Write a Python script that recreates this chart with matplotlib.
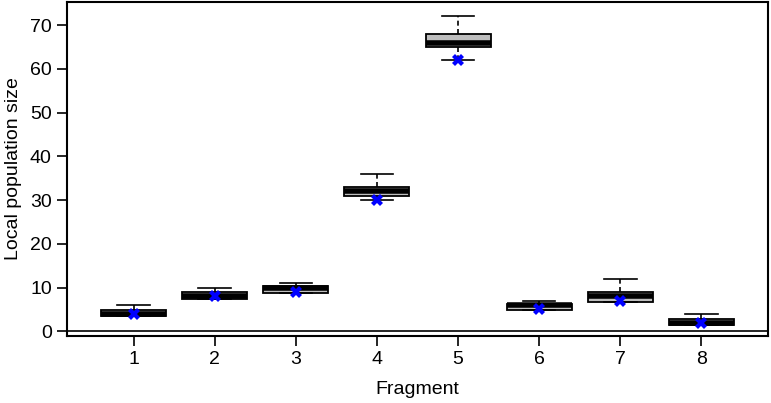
import matplotlib
matplotlib.use("Agg")
import matplotlib.pyplot as plt

plt.rcParams["font.family"] = ["Liberation Sans", "DejaVu Sans"]

# box summary per fragment
fragments = [1, 2, 3, 4, 5, 6, 7, 8]
whisker_lo = [3.5, 7.4, 8.7, 30, 62, 4.8, 6.7, 1.4]
q1 = [3.5, 7.4, 8.7, 30.9, 65, 4.8, 6.7, 1.4]
median = [4, 8, 10, 32, 66, 6, 8, 2]
q3 = [4.9, 8.9, 10.3, 33, 68, 6.3, 8.9, 2.9]
whisker_hi = [6, 10, 11, 36, 72, 7, 12, 4]
true_size = [4, 8, 9, 30, 62, 5, 7, 2]

stats = []
for i in range(len(fragments)):
    stats.append({
        "whislo": whisker_lo[i], "q1": q1[i], "med": median[i],
        "q3": q3[i], "whishi": whisker_hi[i], "fliers": [],
    })

fig = plt.figure(figsize=(7.71, 4.03), dpi=100)
ax = fig.add_axes([0.087, 0.166, 0.909, 0.829])

ax.bxp(stats, positions=fragments, widths=0.8, patch_artist=True,
       showfliers=False,
       boxprops=dict(facecolor="#bebebe", edgecolor="black", linewidth=1.3),
       medianprops=dict(color="black", linewidth=4, solid_capstyle="butt"),
       whiskerprops=dict(color="black", linewidth=1.2, linestyle=(0, (3, 2))),
       capprops=dict(color="black", linewidth=1.2),
       capwidths=0.4)

ax.plot(fragments, true_size, linestyle="none", marker="X", color="blue",
        markersize=9, markeredgewidth=0, zorder=5)

ax.axhline(0, color="black", linewidth=1.2)

ax.set_xlim(0.18, 8.82)
ax.set_ylim(-1.1, 75.3)
ax.set_xticks(fragments)
ax.set_xticklabels([str(f) for f in fragments])
ax.set_yticks(range(0, 71, 10))
ax.tick_params(axis="both", direction="out", length=7, width=1.2,
               labelsize=14, pad=4)
for s in ax.spines.values():
    s.set_linewidth(1.5)

ax.set_xlabel("Fragment", fontsize=14, labelpad=9)
ax.set_ylabel("Local population size", fontsize=14, labelpad=6)

fig.savefig("out.png", dpi=100)
